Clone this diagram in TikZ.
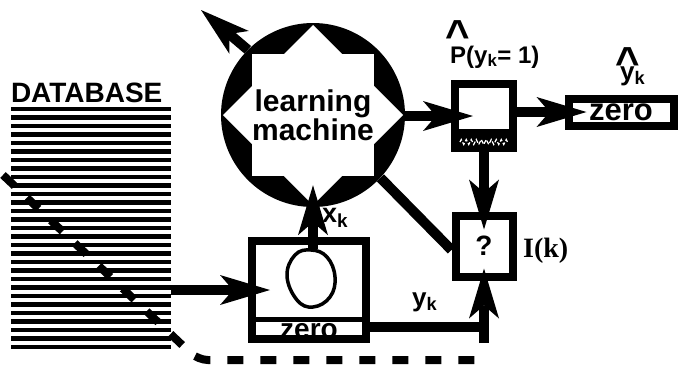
\documentclass[tikz,border=0pt]{standalone}
\usepackage{fontspec}
\setmainfont{Liberation Sans}
\newfontfamily\labelserif{Liberation Serif}
\usetikzlibrary{arrows.meta,positioning,decorations.pathmorphing}

% big bold circumflex set over a letter
\newcommand{\bighat}[2]{\rlap{\kern#1\raisebox{#2}{\fontsize{42}{42}\selectfont\textasciicircum}}}

\begin{document}
\begin{tikzpicture}[
  x=1pt, y=-1pt,
  lmach/.style={circle, fill=black, minimum size=184pt, inner sep=0pt,
                align=center, font=\bfseries\fontsize{30}{29}\selectfont,
                path picture={
                  \fill[white] (path picture bounding box.center)
                    +(-61,-61) rectangle +(61,61);
                  \fill[white] (path picture bounding box.center)
                    +(-90,0) -- +(0,-90) -- +(90,0) -- +(0,90) -- cycle;}},
  box/.style={draw, line width=8pt, inner sep=0pt},
  arr/.style={-{Stealth[length=50pt, width=30pt, inset=13pt, line width=0pt]},
              line width=10pt, shorten >=-22pt},
  wire/.style={line width=10pt},
  lab/.style={inner sep=0pt, anchor=base west, font=\bfseries\fontsize{26}{26}\selectfont},
  stripe/.style={line width=4.2pt},
  feedback/.style={line width=8pt, dash pattern=on 16pt off 17pt, rounded corners=10pt}
]
\useasboundingbox (0,0) rectangle (678,367);

% database records
\node[minimum width=160pt, minimum height=240pt, inner sep=0pt] (db) at (91,228) {};
\foreach \i in {0,...,28}
  \draw[stripe] (11,{109+8.5*\i}) -- (171,{109+8.5*\i});
\node[lab, font=\bfseries\fontsize{28}{28}\selectfont] (dbtitle) at ([yshift=5pt]db.north west) {DATABASE};

% blocks
\node[lmach] (lm) at (313,115) {learning\\machine};
\node[box, minimum width=58pt, minimum height=64pt] (pbox) at (484,116) {};
\node[box, minimum width=105pt, minimum height=27pt, font=\bfseries\fontsize{31}{31}\selectfont] (outbox) at (621,112) {zero};
\node[box, minimum width=57pt, minimum height=61pt, font=\bfseries\fontsize{28}{28}\selectfont] (qbox) at (484,246) {?};
\node[box, minimum width=114pt, minimum height=98pt] (imgbox) at (309,290) {};

% probability box: dark lower part
\fill ([yshift=23pt]pbox.south west) rectangle (pbox.south east);
\draw[white, line width=1.3pt, dash pattern=on 4pt off 2pt, decorate,
      decoration={zigzag, segment length=5pt, amplitude=2.5pt}]
  ([xshift=9pt,yshift=10pt]pbox.south west) -- ([xshift=-9pt,yshift=10pt]pbox.south east);

% image box: pattern and label strip
\draw[line width=3.5pt] plot[smooth cycle, tension=0.7] coordinates
  {(311,250) (327,257) (335,277) (330,297) (313,307) (297,300) (287,276) (295,255)};
\draw[line width=5pt] ([yshift=24pt]imgbox.south west) -- ([yshift=24pt]imgbox.south east);
\node[font=\bfseries\fontsize{28}{28}\selectfont, inner sep=0pt] (imgzero) at ([yshift=12pt]imgbox.south) {zero};

% connections
\coordinate (looptop) at (313,249);
\coordinate (lmout) at (201,10);
\coordinate (ykjoin) at (484,327);
\coordinate (ykfoot) at (484,343);
\draw[arr] (db.east |- imgbox) -- (imgbox.west);
\draw[arr] (looptop) -- (lm.south);
\draw[arr, shorten >=0pt] (lm.135) -- (lmout);
\draw[arr] (lm.east |- pbox) -- (pbox.west);
\draw[arr] (pbox.east |- outbox) -- (outbox.west);
\draw[arr, shorten >=-18pt] (pbox.south) -- (qbox.north);
\draw[wire] (lm.-43) -- ([yshift=-4pt]qbox.west);
\draw[wire] (imgbox.east |- ykjoin) -- (ykjoin);
\draw[arr, shorten >=-12pt] (ykfoot) -- (qbox.south);

% target taken back from the database
\coordinate (fbstart) at (3,175);
\coordinate (fbbend) at (198,360);
\coordinate (fbend) at (486,360);
\draw[feedback] (fbstart) -- (fbbend) -- (fbend);

% labels
\node[lab, font=\bfseries\fontsize{27}{27}\selectfont] (xk) at (322,222) {x\textsubscript{k}};
\node[lab] (yk) at (412,306) {y\textsubscript{k}};
\node[lab, font=\bfseries\fontsize{24}{24}\selectfont] (phat) at (450,63) {\bighat{-4.3pt}{13.5pt}P(y\textsubscript{k}= 1)};
\node[lab] (yhat) at (620,80) {\bighat{-5pt}{3.5pt}y\textsubscript{k}};
\node[lab, font=\labelserif\bfseries\fontsize{28}{28}\selectfont] (ik) at (523,257) {I(k)};
\end{tikzpicture}
\end{document}
